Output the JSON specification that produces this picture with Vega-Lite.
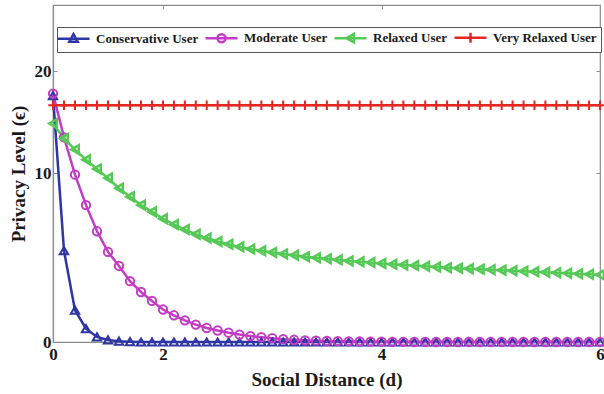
{
  "$schema": "https://vega.github.io/schema/vega-lite/v6.json",
  "width": 547,
  "height": 337,
  "autosize": "none",
  "padding": {"left": 53, "top": 5, "right": 4, "bottom": 52},
  "background": "white",
  "config": {
    "font": "Liberation Serif",
    "view": {"stroke": "#8c8c8c", "strokeWidth": 1.2},
    "axis": {
      "labelFont": "Liberation Serif",
      "labelFontWeight": "bold",
      "labelFontSize": 17,
      "labelColor": "#1a1a1a",
      "titleFont": "Liberation Serif",
      "titleFontWeight": "bold",
      "titleFontSize": 19,
      "titleColor": "#1a1a1a",
      "domainColor": "#8c8c8c",
      "domainWidth": 1.2,
      "tickColor": "#8c8c8c",
      "grid": false
    }
  },
  "data": {
    "values": [
      {"user": "Conservative User", "d": 0, "eps": 17.6},
      {"user": "Conservative User", "d": 0.2, "eps": 5.4},
      {"user": "Conservative User", "d": 0.4, "eps": 1.88},
      {"user": "Conservative User", "d": 0.6, "eps": 0.79},
      {"user": "Conservative User", "d": 0.8, "eps": 0.3},
      {"user": "Conservative User", "d": 1, "eps": 0.12},
      {"user": "Conservative User", "d": 1.2, "eps": 0.05},
      {"user": "Conservative User", "d": 1.4, "eps": 0.02},
      {"user": "Conservative User", "d": 1.6, "eps": 0},
      {"user": "Conservative User", "d": 1.8, "eps": 0},
      {"user": "Conservative User", "d": 2, "eps": 0},
      {"user": "Conservative User", "d": 2.1, "eps": 0},
      {"user": "Conservative User", "d": 2.2, "eps": 0},
      {"user": "Conservative User", "d": 2.3, "eps": 0},
      {"user": "Conservative User", "d": 2.4, "eps": 0},
      {"user": "Conservative User", "d": 2.5, "eps": 0},
      {"user": "Conservative User", "d": 2.6, "eps": 0},
      {"user": "Conservative User", "d": 2.7, "eps": 0},
      {"user": "Conservative User", "d": 2.8, "eps": 0},
      {"user": "Conservative User", "d": 2.9, "eps": 0},
      {"user": "Conservative User", "d": 3, "eps": 0},
      {"user": "Conservative User", "d": 3.1, "eps": 0},
      {"user": "Conservative User", "d": 3.2, "eps": 0},
      {"user": "Conservative User", "d": 3.3, "eps": 0},
      {"user": "Conservative User", "d": 3.4, "eps": 0},
      {"user": "Conservative User", "d": 3.5, "eps": 0},
      {"user": "Conservative User", "d": 3.6, "eps": 0},
      {"user": "Conservative User", "d": 3.7, "eps": 0},
      {"user": "Conservative User", "d": 3.8, "eps": 0},
      {"user": "Conservative User", "d": 3.9, "eps": 0},
      {"user": "Conservative User", "d": 4, "eps": 0},
      {"user": "Conservative User", "d": 4.1, "eps": 0},
      {"user": "Conservative User", "d": 4.2, "eps": 0},
      {"user": "Conservative User", "d": 4.3, "eps": 0},
      {"user": "Conservative User", "d": 4.4, "eps": 0},
      {"user": "Conservative User", "d": 4.5, "eps": 0},
      {"user": "Conservative User", "d": 4.6, "eps": 0},
      {"user": "Conservative User", "d": 4.7, "eps": 0},
      {"user": "Conservative User", "d": 4.8, "eps": 0},
      {"user": "Conservative User", "d": 4.9, "eps": 0},
      {"user": "Conservative User", "d": 5, "eps": 0},
      {"user": "Conservative User", "d": 5.1, "eps": 0},
      {"user": "Conservative User", "d": 5.2, "eps": 0},
      {"user": "Conservative User", "d": 5.3, "eps": 0},
      {"user": "Conservative User", "d": 5.4, "eps": 0},
      {"user": "Conservative User", "d": 5.5, "eps": 0},
      {"user": "Conservative User", "d": 5.6, "eps": 0},
      {"user": "Conservative User", "d": 5.7, "eps": 0},
      {"user": "Conservative User", "d": 5.8, "eps": 0},
      {"user": "Conservative User", "d": 5.9, "eps": 0},
      {"user": "Conservative User", "d": 6, "eps": 0},
      {"user": "Moderate User", "d": 0, "eps": 17.8},
      {"user": "Moderate User", "d": 0.2, "eps": 13.5},
      {"user": "Moderate User", "d": 0.4, "eps": 9.9},
      {"user": "Moderate User", "d": 0.6, "eps": 8.1},
      {"user": "Moderate User", "d": 0.8, "eps": 6.55},
      {"user": "Moderate User", "d": 1, "eps": 5.33},
      {"user": "Moderate User", "d": 1.2, "eps": 4.5},
      {"user": "Moderate User", "d": 1.4, "eps": 3.6},
      {"user": "Moderate User", "d": 1.6, "eps": 2.96},
      {"user": "Moderate User", "d": 1.8, "eps": 2.43},
      {"user": "Moderate User", "d": 2, "eps": 1.92},
      {"user": "Moderate User", "d": 2.1, "eps": 1.58},
      {"user": "Moderate User", "d": 2.2, "eps": 1.28},
      {"user": "Moderate User", "d": 2.3, "eps": 1.03},
      {"user": "Moderate User", "d": 2.4, "eps": 0.83},
      {"user": "Moderate User", "d": 2.5, "eps": 0.68},
      {"user": "Moderate User", "d": 2.6, "eps": 0.55},
      {"user": "Moderate User", "d": 2.7, "eps": 0.44},
      {"user": "Moderate User", "d": 2.8, "eps": 0.35},
      {"user": "Moderate User", "d": 2.9, "eps": 0.28},
      {"user": "Moderate User", "d": 3, "eps": 0.22},
      {"user": "Moderate User", "d": 3.1, "eps": 0.17},
      {"user": "Moderate User", "d": 3.2, "eps": 0.13},
      {"user": "Moderate User", "d": 3.3, "eps": 0.1},
      {"user": "Moderate User", "d": 3.4, "eps": 0.08},
      {"user": "Moderate User", "d": 3.5, "eps": 0.06},
      {"user": "Moderate User", "d": 3.6, "eps": 0.05},
      {"user": "Moderate User", "d": 3.7, "eps": 0.04},
      {"user": "Moderate User", "d": 3.8, "eps": 0.03},
      {"user": "Moderate User", "d": 3.9, "eps": 0.02},
      {"user": "Moderate User", "d": 4, "eps": 0.02},
      {"user": "Moderate User", "d": 4.1, "eps": 0.01},
      {"user": "Moderate User", "d": 4.2, "eps": 0.01},
      {"user": "Moderate User", "d": 4.3, "eps": 0},
      {"user": "Moderate User", "d": 4.4, "eps": 0},
      {"user": "Moderate User", "d": 4.5, "eps": 0},
      {"user": "Moderate User", "d": 4.6, "eps": 0},
      {"user": "Moderate User", "d": 4.7, "eps": 0},
      {"user": "Moderate User", "d": 4.8, "eps": 0},
      {"user": "Moderate User", "d": 4.9, "eps": 0},
      {"user": "Moderate User", "d": 5, "eps": 0},
      {"user": "Moderate User", "d": 5.1, "eps": 0},
      {"user": "Moderate User", "d": 5.2, "eps": 0},
      {"user": "Moderate User", "d": 5.3, "eps": 0},
      {"user": "Moderate User", "d": 5.4, "eps": 0},
      {"user": "Moderate User", "d": 5.5, "eps": 0},
      {"user": "Moderate User", "d": 5.6, "eps": 0},
      {"user": "Moderate User", "d": 5.7, "eps": 0},
      {"user": "Moderate User", "d": 5.8, "eps": 0},
      {"user": "Moderate User", "d": 5.9, "eps": 0},
      {"user": "Moderate User", "d": 6, "eps": 0},
      {"user": "Relaxed User", "d": 0, "eps": 14.85},
      {"user": "Relaxed User", "d": 0.2, "eps": 13.4},
      {"user": "Relaxed User", "d": 0.4, "eps": 12.3},
      {"user": "Relaxed User", "d": 0.6, "eps": 11.3},
      {"user": "Relaxed User", "d": 0.8, "eps": 10.4},
      {"user": "Relaxed User", "d": 1, "eps": 9.7},
      {"user": "Relaxed User", "d": 1.2, "eps": 9.1},
      {"user": "Relaxed User", "d": 1.4, "eps": 8.6},
      {"user": "Relaxed User", "d": 1.6, "eps": 8.1},
      {"user": "Relaxed User", "d": 1.8, "eps": 7.7},
      {"user": "Relaxed User", "d": 2, "eps": 7.3},
      {"user": "Relaxed User", "d": 2.1, "eps": 6.95},
      {"user": "Relaxed User", "d": 2.2, "eps": 6.65},
      {"user": "Relaxed User", "d": 2.3, "eps": 6.38},
      {"user": "Relaxed User", "d": 2.4, "eps": 6.15},
      {"user": "Relaxed User", "d": 2.5, "eps": 5.95},
      {"user": "Relaxed User", "d": 2.6, "eps": 5.78},
      {"user": "Relaxed User", "d": 2.7, "eps": 5.63},
      {"user": "Relaxed User", "d": 2.8, "eps": 5.5},
      {"user": "Relaxed User", "d": 2.9, "eps": 5.4},
      {"user": "Relaxed User", "d": 3, "eps": 5.3},
      {"user": "Relaxed User", "d": 3.1, "eps": 5.21},
      {"user": "Relaxed User", "d": 3.2, "eps": 5.13},
      {"user": "Relaxed User", "d": 3.3, "eps": 5.05},
      {"user": "Relaxed User", "d": 3.4, "eps": 4.98},
      {"user": "Relaxed User", "d": 3.5, "eps": 4.92},
      {"user": "Relaxed User", "d": 3.6, "eps": 4.86},
      {"user": "Relaxed User", "d": 3.7, "eps": 4.8},
      {"user": "Relaxed User", "d": 3.8, "eps": 4.75},
      {"user": "Relaxed User", "d": 3.9, "eps": 4.7},
      {"user": "Relaxed User", "d": 4, "eps": 4.65},
      {"user": "Relaxed User", "d": 4.1, "eps": 4.6},
      {"user": "Relaxed User", "d": 4.2, "eps": 4.56},
      {"user": "Relaxed User", "d": 4.3, "eps": 4.52},
      {"user": "Relaxed User", "d": 4.4, "eps": 4.48},
      {"user": "Relaxed User", "d": 4.5, "eps": 4.44},
      {"user": "Relaxed User", "d": 4.6, "eps": 4.4},
      {"user": "Relaxed User", "d": 4.7, "eps": 4.37},
      {"user": "Relaxed User", "d": 4.8, "eps": 4.34},
      {"user": "Relaxed User", "d": 4.9, "eps": 4.31},
      {"user": "Relaxed User", "d": 5, "eps": 4.28},
      {"user": "Relaxed User", "d": 5.1, "eps": 4.25},
      {"user": "Relaxed User", "d": 5.2, "eps": 4.22},
      {"user": "Relaxed User", "d": 5.3, "eps": 4.19},
      {"user": "Relaxed User", "d": 5.4, "eps": 4.16},
      {"user": "Relaxed User", "d": 5.5, "eps": 4.13},
      {"user": "Relaxed User", "d": 5.6, "eps": 4.1},
      {"user": "Relaxed User", "d": 5.7, "eps": 4.07},
      {"user": "Relaxed User", "d": 5.8, "eps": 4.04},
      {"user": "Relaxed User", "d": 5.9, "eps": 4.01},
      {"user": "Relaxed User", "d": 6, "eps": 3.98},
      {"user": "Very Relaxed User", "d": 0, "eps": 16.65},
      {"user": "Very Relaxed User", "d": 0.2, "eps": 16.65},
      {"user": "Very Relaxed User", "d": 0.4, "eps": 16.65},
      {"user": "Very Relaxed User", "d": 0.6, "eps": 16.65},
      {"user": "Very Relaxed User", "d": 0.8, "eps": 16.65},
      {"user": "Very Relaxed User", "d": 1, "eps": 16.65},
      {"user": "Very Relaxed User", "d": 1.2, "eps": 16.65},
      {"user": "Very Relaxed User", "d": 1.4, "eps": 16.65},
      {"user": "Very Relaxed User", "d": 1.6, "eps": 16.65},
      {"user": "Very Relaxed User", "d": 1.8, "eps": 16.65},
      {"user": "Very Relaxed User", "d": 2, "eps": 16.65},
      {"user": "Very Relaxed User", "d": 2.1, "eps": 16.65},
      {"user": "Very Relaxed User", "d": 2.2, "eps": 16.65},
      {"user": "Very Relaxed User", "d": 2.3, "eps": 16.65},
      {"user": "Very Relaxed User", "d": 2.4, "eps": 16.65},
      {"user": "Very Relaxed User", "d": 2.5, "eps": 16.65},
      {"user": "Very Relaxed User", "d": 2.6, "eps": 16.65},
      {"user": "Very Relaxed User", "d": 2.7, "eps": 16.65},
      {"user": "Very Relaxed User", "d": 2.8, "eps": 16.65},
      {"user": "Very Relaxed User", "d": 2.9, "eps": 16.65},
      {"user": "Very Relaxed User", "d": 3, "eps": 16.65},
      {"user": "Very Relaxed User", "d": 3.1, "eps": 16.65},
      {"user": "Very Relaxed User", "d": 3.2, "eps": 16.65},
      {"user": "Very Relaxed User", "d": 3.3, "eps": 16.65},
      {"user": "Very Relaxed User", "d": 3.4, "eps": 16.65},
      {"user": "Very Relaxed User", "d": 3.5, "eps": 16.65},
      {"user": "Very Relaxed User", "d": 3.6, "eps": 16.65},
      {"user": "Very Relaxed User", "d": 3.7, "eps": 16.65},
      {"user": "Very Relaxed User", "d": 3.8, "eps": 16.65},
      {"user": "Very Relaxed User", "d": 3.9, "eps": 16.65},
      {"user": "Very Relaxed User", "d": 4, "eps": 16.65},
      {"user": "Very Relaxed User", "d": 4.1, "eps": 16.65},
      {"user": "Very Relaxed User", "d": 4.2, "eps": 16.65},
      {"user": "Very Relaxed User", "d": 4.3, "eps": 16.65},
      {"user": "Very Relaxed User", "d": 4.4, "eps": 16.65},
      {"user": "Very Relaxed User", "d": 4.5, "eps": 16.65},
      {"user": "Very Relaxed User", "d": 4.6, "eps": 16.65},
      {"user": "Very Relaxed User", "d": 4.7, "eps": 16.65},
      {"user": "Very Relaxed User", "d": 4.8, "eps": 16.65},
      {"user": "Very Relaxed User", "d": 4.9, "eps": 16.65},
      {"user": "Very Relaxed User", "d": 5, "eps": 16.65},
      {"user": "Very Relaxed User", "d": 5.1, "eps": 16.65},
      {"user": "Very Relaxed User", "d": 5.2, "eps": 16.65},
      {"user": "Very Relaxed User", "d": 5.3, "eps": 16.65},
      {"user": "Very Relaxed User", "d": 5.4, "eps": 16.65},
      {"user": "Very Relaxed User", "d": 5.5, "eps": 16.65},
      {"user": "Very Relaxed User", "d": 5.6, "eps": 16.65},
      {"user": "Very Relaxed User", "d": 5.7, "eps": 16.65},
      {"user": "Very Relaxed User", "d": 5.8, "eps": 16.65},
      {"user": "Very Relaxed User", "d": 5.9, "eps": 16.65},
      {"user": "Very Relaxed User", "d": 6, "eps": 16.65}
    ]
  },
  "layer": [
    {
      "mark": {"type": "line", "strokeWidth": 2.5},
      "encoding": {
        "x": {
          "field": "d", "type": "quantitative",
          "scale": {"domain": [0, 2, 6], "range": [0, 110, 547], "nice": false, "zero": false},
          "axis": {"orient": "bottom", "title": "Social Distance (d)", "values": [0, 2, 4, 6], "tickSize": -4, "labelPadding": 8, "labelFlush": false, "titlePadding": 8}
        },
        "y": {
          "field": "eps", "type": "quantitative",
          "scale": {"domain": [0, 10, 26.5], "range": [337, 168, 0], "nice": false, "zero": false},
          "axis": {"orient": "left", "title": "Privacy Level (ϵ)", "values": [0, 10, 20], "tickSize": -4, "labelPadding": 6, "titlePadding": 6}
        },
        "color": {
          "field": "user", "type": "nominal",
          "scale": {
            "domain": ["Conservative User", "Moderate User", "Relaxed User", "Very Relaxed User"],
            "range": ["#2f35a3", "#c23cc4", "#55c955", "#e42722"]
          },
          "legend": {
            "title": null,
            "orient": "none",
            "legendX": 4,
            "legendY": 22,
            "direction": "horizontal",
            "columns": 4,
            "padding": 4,
            "columnPadding": 1,
            "strokeColor": "#555555",
            "fillColor": "white",
            "labelFont": "Liberation Serif",
            "labelFontWeight": "bold",
            "labelFontSize": 13,
            "labelColor": "#1a1a1a",
            "labelOffset": 22,
            "symbolSize": 100,
            "symbolStrokeWidth": 2.5,
            "encode": {
              "symbols": {
                "update": {
                  "shape": {"signal": "datum.value === 'Conservative User' ? 'M-2,0H4.4M1.2,-0.95L2.05,0.6L0.35,0.6Z' : datum.value === 'Moderate User' ? 'M-2,0H4.4M0.4,0A0.8,0.8 0 1,0 2,0A0.8,0.8 0 1,0 0.4,0' : datum.value === 'Relaxed User' ? 'M-2,0H4.4M0.4,0L1.9,-0.85L1.9,0.85Z' : 'M-2,0H4.4M1.2,-1V1'"},
                  "fill": {"value": "transparent"}
                }
              }
            }
          }
        }
      }
    },
    {
      "transform": [{"filter": "datum.user === 'Conservative User'"}],
      "mark": {"type": "point", "shape": "triangle-up", "filled": false, "size": 70, "strokeWidth": 2, "color": "#2f35a3", "opacity": 1},
      "encoding": {
        "x": {"field": "d", "type": "quantitative", "axis": null},
        "y": {"field": "eps", "type": "quantitative", "axis": null}
      }
    },
    {
      "transform": [{"filter": "datum.user === 'Moderate User'"}],
      "mark": {"type": "point", "shape": "circle", "filled": false, "size": 70, "strokeWidth": 2, "color": "#c23cc4", "opacity": 1},
      "encoding": {
        "x": {"field": "d", "type": "quantitative", "axis": null},
        "y": {"field": "eps", "type": "quantitative", "axis": null}
      }
    },
    {
      "transform": [{"filter": "datum.user === 'Relaxed User'"}],
      "mark": {"type": "point", "shape": "triangle-left", "filled": false, "size": 75, "strokeWidth": 2.5, "color": "#55c955", "opacity": 1},
      "encoding": {
        "x": {"field": "d", "type": "quantitative", "axis": null},
        "y": {"field": "eps", "type": "quantitative", "axis": null}
      }
    },
    {
      "transform": [{"filter": "datum.user === 'Very Relaxed User'"}],
      "mark": {"type": "point", "shape": "M-1,0H1M0,-1V1", "filled": false, "size": 90, "strokeWidth": 2, "color": "#e42722", "opacity": 1},
      "encoding": {
        "x": {
          "field": "d", "type": "quantitative",
          "axis": {"orient": "top", "title": null, "values": [2, 4], "labels": false, "domain": false, "tickSize": -4}
        },
        "y": {
          "field": "eps", "type": "quantitative",
          "axis": {"orient": "right", "title": null, "values": [10, 20], "labels": false, "domain": false, "tickSize": -4}
        }
      }
    }
  ],
  "resolve": {"axis": {"x": "independent", "y": "independent"}}
}
